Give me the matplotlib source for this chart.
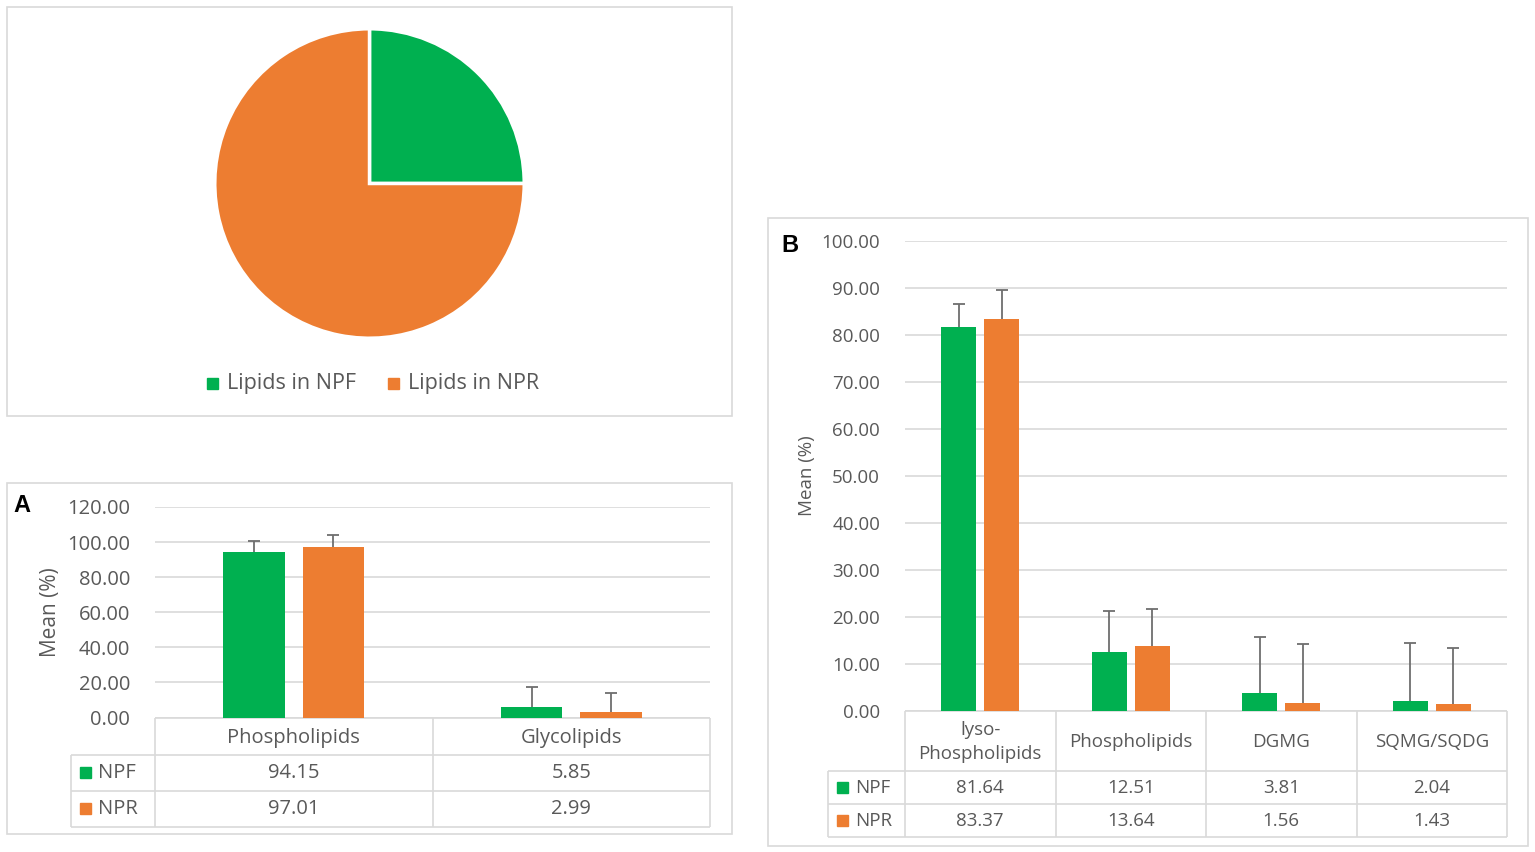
import matplotlib
matplotlib.use("Agg")
import matplotlib.pyplot as plt
from matplotlib.patches import Rectangle
import numpy as np

plt.rcParams['font.family'] = ['Open Sans', 'DejaVu Sans']

# ---------------- data ----------------
pie_labels = ["Lipids in NPF", "Lipids in NPR"]
pie_values = [25.0, 75.0]

series_names = ["NPF", "NPR"]

a_categories = ["Phospholipids", "Glycolipids"]
a_npf = [94.15, 5.85]
a_npr = [97.01, 2.99]
a_npf_err = [6.6, 11.8]
a_npr_err = [7.2, 10.9]
a_ticks = [0, 20, 40, 60, 80, 100, 120]

b_categories = ["lyso-\nPhospholipids", "Phospholipids", "DGMG", "SQMG/SQDG"]
b_npf = [81.64, 12.51, 3.81, 2.04]
b_npr = [83.37, 13.64, 1.56, 1.43]
b_npf_err = [4.9, 8.6, 11.8, 12.4]
b_npr_err = [6.1, 8.0, 12.5, 11.8]
b_ticks = [0, 10, 20, 30, 40, 50, 60, 70, 80, 90, 100]

GREEN = "#00B050"
ORANGE = "#ED7D31"
TXT = "#595959"
GRID = "#D9D9D9"
ERR = "#6E6E6E"
colors = [GREEN, ORANGE]

W, H = 1535, 852
fig = plt.figure(figsize=(W / 100, H / 100), dpi=100)
fig.patch.set_facecolor("white")


def add_ax(x0, y0, x1, y1, **kw):
    return fig.add_axes([x0 / W, 1 - y1 / H, (x1 - x0) / W, (y1 - y0) / H], **kw)


# overlay for boxes/table (pixel coordinates)
ov = add_ax(0, 0, W, H, zorder=0)
ov.set_xlim(0, W)
ov.set_ylim(H, 0)
ov.axis("off")


def box(x0, y0, x1, y1, lw=1.2):
    ov.add_patch(Rectangle((x0, y0), x1 - x0, y1 - y0, fill=False, edgecolor=GRID, lw=lw))


def hline(y, x0, x1):
    ov.plot([x0, x1], [y, y], color=GRID, lw=1.2, solid_capstyle="butt")


def vline(x, y0, y1):
    ov.plot([x, x], [y0, y1], color=GRID, lw=1.2, solid_capstyle="butt")


# panel boxes
box(7, 7, 732, 416)
box(7, 483, 732, 834)
box(768, 218, 1528, 846)

# ---------------- pie ----------------
axp = add_ax(214, 28, 525, 339)
axp.pie(pie_values, colors=colors, startangle=90, counterclock=False, radius=1,
        wedgeprops=dict(edgecolor="white", linewidth=2.5))
axp.set_xlim(-1.005, 1.005)
axp.set_ylim(-1.005, 1.005)
axp.set_aspect("equal")
axp.axis("off")
# pie legend
leg_x = [207, 388]
for i, lab in enumerate(pie_labels):
    ov.add_patch(Rectangle((leg_x[i], 378), 11, 11, color=colors[i]))
    ov.text(leg_x[i] + 20, 384, lab, fontsize=15.5, color=TXT, va="center", ha="left")


# ---------------- bar panels ----------------
def bar_panel(px0, py0, px1, py1, cats, npf, npr, npf_err, npr_err, ticks,
              width, offset, tick_fs, yl_x, ylab_fs, table_left, row_h, header_h,
              cell_fs, panel_letter, letter_xy, cap_ms):
    ax = add_ax(px0, py0, px1, py1, zorder=2)
    ax.patch.set_alpha(0)
    n = len(cats)
    x = np.arange(n)
    for vals, errs, sgn, col in ((npf, npf_err, -1, GREEN), (npr, npr_err, 1, ORANGE)):
        xs = x + sgn * offset
        vals = np.asarray(vals)
        tops = vals + np.asarray(errs)
        ax.bar(xs, vals, width, color=col, zorder=3)
        ax.vlines(xs, vals, tops, color=ERR, lw=1.3, zorder=4)
        ax.plot(xs, tops, ls="none", marker="_", ms=cap_ms, mew=1.3, color=ERR, zorder=4)
    ax.set_xlim(-0.5, n - 0.5)
    ax.set_ylim(ticks[0], ticks[-1])
    ax.set_yticks(ticks)
    ax.set_yticklabels([f"{t:.2f}" for t in ticks])
    ax.tick_params(axis="y", length=0, labelsize=tick_fs, labelcolor=TXT, pad=18)
    ax.set_xticks([])
    for s in ax.spines.values():
        s.set_visible(False)
    ax.yaxis.grid(True, color=GRID, lw=1.2, zorder=0)
    ax.set_axisbelow(True)
    ax.set_ylabel("Mean (%)", fontsize=ylab_fs, color=TXT)
    ax.yaxis.set_label_coords(yl_x, 0.5)

    # table
    col_w = (px1 - px0) / n
    y_hdr0 = py1
    y_r1 = py1 + header_h
    y_r2 = y_r1 + row_h
    y_r3 = y_r2 + row_h
    hline(y_hdr0, px0, px1)
    for yy in (y_r1, y_r2, y_r3):
        hline(yy, table_left, px1)
    for i in range(n + 1):
        vline(px0 + i * col_w, y_hdr0, y_r3)
    vline(table_left, y_r1, y_r3)
    for i, c in enumerate(cats):
        cx = px0 + (i + 0.5) * col_w
        ov.text(cx, (y_hdr0 + y_r1) / 2 + 1.5, c, ha="center", va="center",
                fontsize=cell_fs, color=TXT, linespacing=1.4)
        ov.text(cx, (y_r1 + y_r2) / 2 + 1, f"{npf[i]:.2f}", ha="center", va="center",
                fontsize=cell_fs, color=TXT)
        ov.text(cx, (y_r2 + y_r3) / 2 + 1, f"{npr[i]:.2f}", ha="center", va="center",
                fontsize=cell_fs, color=TXT)
    for j, (yy0, yy1) in enumerate(((y_r1, y_r2), (y_r2, y_r3))):
        cy = (yy0 + yy1) / 2
        ov.add_patch(Rectangle((table_left + 9, cy - 5.5), 11, 11, color=colors[j]))
        ov.text(table_left + 27, cy + 1, series_names[j], ha="left", va="center",
                fontsize=cell_fs, color=TXT)
    ov.text(letter_xy[0], letter_xy[1], panel_letter, fontsize=17, fontweight="bold",
            family="Liberation Sans", color="black", ha="center", va="center")
    return ax


bar_panel(155, 507, 710, 717.5, a_categories, a_npf, a_npr, a_npf_err, a_npr_err,
          a_ticks, width=0.222, offset=0.143, tick_fs=14.5, yl_x=-0.17, ylab_fs=15,
          table_left=71, row_h=36, header_h=37, cell_fs=14.5, panel_letter="A",
          letter_xy=(22, 506), cap_ms=8)

bar_panel(905, 241, 1507, 710.5, b_categories, b_npf, b_npr, b_npf_err, b_npr_err,
          b_ticks, width=0.232, offset=0.143, tick_fs=13.5, yl_x=-0.148, ylab_fs=13.5,
          table_left=828, row_h=33, header_h=60, cell_fs=13.5, panel_letter="B",
          letter_xy=(790, 246), cap_ms=8)

fig.savefig("out.png", dpi=100, facecolor="white")
